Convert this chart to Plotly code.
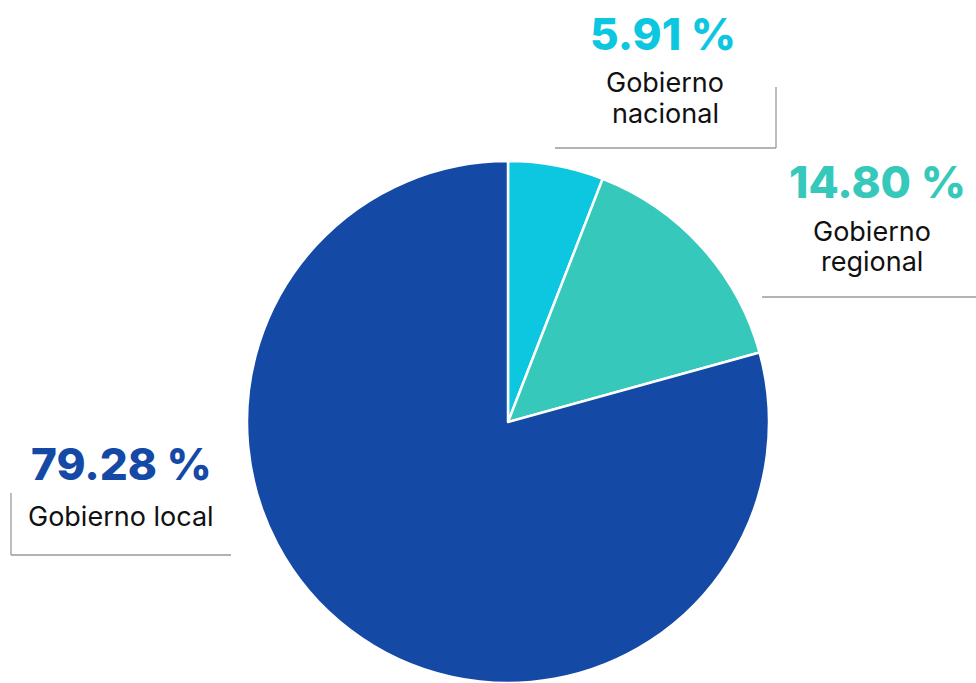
import plotly.graph_objects as go

categories = ["Gobierno nacional", "Gobierno regional", "Gobierno local"]
label_lines = [["Gobierno", "nacional"], ["Gobierno", "regional"], ["Gobierno local"]]
values = [5.91, 14.80, 79.28]
colors = ["#0CC7DF", "#36C9BB", "#1449A6"]

W, H = 976, 683

fig = go.Figure(go.Pie(
    labels=categories,
    values=values,
    sort=False,
    direction="clockwise",
    rotation=0,
    marker=dict(colors=colors, line=dict(color="white", width=2.5)),
    textinfo="none",
    hoverinfo="label+percent",
    domain=dict(x=[(508 - 261) / W, (508 + 261) / W], y=[0, 522 / H]),
    showlegend=False,
))

def px(x):
    return x / W

def py(y):
    return 1 - y / H

# label positions (pixel coords): pct center, name center x, first name-line y
label_pos = [
    (663, 34, 665, 82),
    (877, 182, 872, 231),
    (121, 464, 121, 516),
]
line_gap = 31

annotations = []
for i in range(len(values)):
    xp, yp, xn, yn = label_pos[i]
    annotations.append(dict(
        x=px(xp), y=py(yp), xref="paper", yref="paper", showarrow=False,
        text=f"{values[i]:.2f} %",
        font=dict(family="Inter, Poppins, sans-serif", size=44, color=colors[i], weight=800),
        xanchor="center", yanchor="middle",
    ))
    for k, line in enumerate(label_lines[i]):
        annotations.append(dict(
            x=px(xn), y=py(yn + k * line_gap), xref="paper", yref="paper", showarrow=False,
            text=line,
            font=dict(family="Inter, Poppins, sans-serif", size=27, color="#111111"),
            xanchor="center", yanchor="middle", align="center",
        ))

line_style = dict(color="#9a9a9a", width=1.3)
segments = [
    (555, 148, 776, 148), (776, 87, 776, 148),
    (762, 297, 976, 297),
    (11, 493, 11, 555), (11, 555, 231, 555),
]
shapes = [dict(type="line", xref="paper", yref="paper",
               x0=px(a), y0=py(b), x1=px(c), y1=py(d), line=line_style)
          for a, b, c, d in segments]

fig.update_layout(
    width=W, height=H,
    margin=dict(l=0, r=0, t=0, b=0),
    paper_bgcolor="white", plot_bgcolor="white",
    annotations=annotations, shapes=shapes,
)

fig.write_html(
    "out.html",
    config={"displayModeBar": False},
    post_script="document.body.style.margin='0';document.body.style.overflow='hidden';",
)
